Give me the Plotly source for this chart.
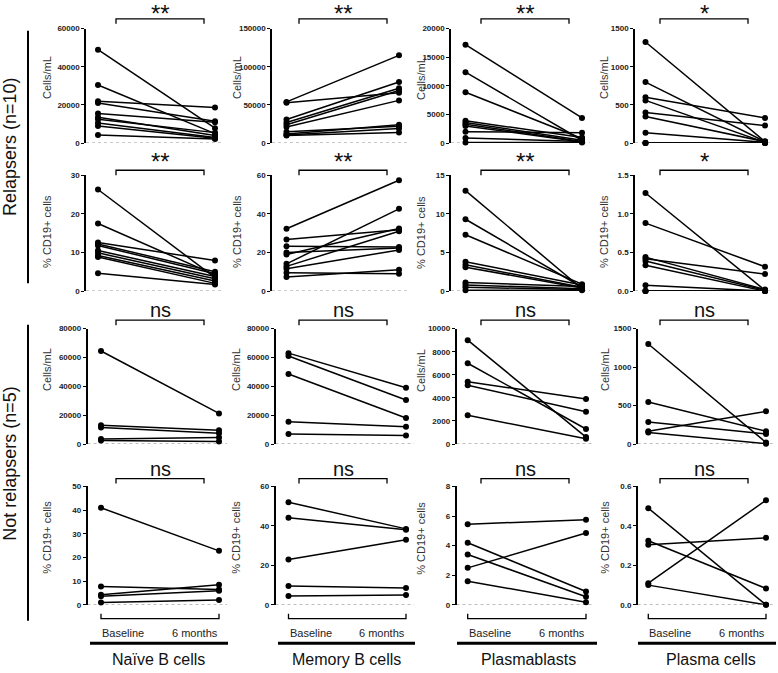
import plotly.graph_objects as go

# ---------------- data ----------------
cell_types = ["Naïve B cells", "Memory B cells", "Plasmablasts", "Plasma cells"]
timepoints = ["Baseline", "6 months"]
group_labels = ["Relapsers (n=10)", "Not relapsers (n=5)"]
row_units = ["Cells/mL", "% CD19+ cells", "Cells/mL", "% CD19+ cells"]
significance_rel = ["**", "**", "**", "*"]
significance_rel_pct = ["**", "**", "**", "*"]
significance_nonrel = ["ns", "ns", "ns", "ns"]
significance_nonrel_pct = ["ns", "ns", "ns", "ns"]

# Relapsers, cells/mL
rel_naive_cells_base = [49000, 30500, 22000, 21000, 15500, 13500, 12500, 10500, 9000, 4200]
rel_naive_cells_6m = [7800, 5000, 18700, 11500, 11000, 4000, 5500, 3000, 2600, 2100]
rel_memory_cells_base = [54000, 53000, 31000, 27000, 24000, 21000, 15000, 12000, 10500, 10000]
rel_memory_cells_6m = [115000, 66000, 80000, 72000, 69000, 56000, 22000, 24000, 19000, 14000]
rel_pb_cells_base = [17200, 12400, 8900, 3900, 3600, 3300, 3000, 2000, 900, 100]
rel_pb_cells_6m = [4400, 500, 800, 1000, 500, 300, 200, 1800, 300, 100]
rel_pc_cells_base = [1325, 800, 600, 560, 400, 350, 135, 0, 0, 0]
rel_pc_cells_6m = [20, 20, 330, 10, 230, 20, 10, 0, 0, 0]

# Relapsers, % CD19+ cells
rel_naive_pct_base = [26.3, 17.5, 12.6, 12.2, 11.8, 10.5, 9.9, 9.2, 8.8, 4.6]
rel_naive_pct_6m = [3.5, 4.2, 7.9, 5.0, 4.5, 3.8, 3.2, 2.6, 2.0, 1.7]
rel_memory_pct_base = [32.3, 26.7, 23.2, 20.0, 19.0, 14.1, 12.8, 11.6, 9.5, 7.3]
rel_memory_pct_6m = [57.4, 31.7, 22.8, 22.3, 32.4, 42.6, 31.0, 21.3, 9.0, 11.0]
rel_pb_pct_base = [13.0, 9.3, 7.3, 3.8, 3.4, 3.1, 1.1, 0.8, 0.5, 0.1]
rel_pb_pct_6m = [0.3, 0.5, 0.9, 0.8, 0.5, 0.4, 0.6, 0.3, 0.2, 0.1]
rel_pc_pct_base = [1.27, 0.88, 0.44, 0.42, 0.39, 0.335, 0.075, 0.0, 0.0, 0.0]
rel_pc_pct_6m = [0.01, 0.315, 0.02, 0.22, 0.01, 0.0, 0.0, 0.0, 0.0, 0.0]

# Not relapsers, cells/mL
non_naive_cells_base = [64500, 13000, 11500, 3500, 2500]
non_naive_cells_6m = [21200, 9500, 7500, 4500, 1800]
non_memory_cells_base = [63000, 61000, 48500, 15500, 7000]
non_memory_cells_6m = [39000, 30500, 18000, 12000, 6000]
non_pb_cells_base = [9000, 7000, 5400, 5100, 2500]
non_pb_cells_6m = [600, 1300, 3900, 2800, 450]
non_pc_cells_base = [1300, 545, 285, 165, 150]
non_pc_cells_6m = [20, 165, 130, 425, 5]

# Not relapsers, % CD19+ cells
non_naive_pct_base = [41.0, 7.8, 4.3, 3.6, 1.0]
non_naive_pct_6m = [22.8, 6.5, 8.5, 6.0, 2.0]
non_memory_pct_base = [52.0, 44.2, 23.0, 9.5, 4.5]
non_memory_pct_6m = [38.5, 38.0, 33.0, 8.5, 5.0]
non_pb_pct_base = [5.45, 4.2, 3.4, 2.5, 1.6]
non_pb_pct_6m = [5.75, 0.9, 0.55, 4.85, 0.18]
non_pc_pct_base = [0.49, 0.325, 0.305, 0.11, 0.10]
non_pc_pct_6m = [0.0, 0.083, 0.34, 0.53, 0.0]

# axis tick values per panel (row-major)
ticks_rows = [
    [[0, 20000, 40000, 60000], [0, 50000, 100000, 150000], [0, 5000, 10000, 15000, 20000], [0, 500, 1000, 1500]],
    [[0, 10, 20, 30], [0, 20, 40, 60], [0, 5, 10, 15], [0, 0.5, 1.0, 1.5]],
    [[0, 20000, 40000, 60000, 80000], [0, 20000, 40000, 60000, 80000], [0, 2000, 4000, 6000, 8000, 10000], [0, 500, 1000, 1500]],
    [[0, 10, 20, 30, 40, 50], [0, 20, 40, 60], [0, 2, 4, 6, 8], [0, 0.2, 0.4, 0.6]],
]

panels = [
    [(rel_naive_cells_base, rel_naive_cells_6m), (rel_memory_cells_base, rel_memory_cells_6m),
     (rel_pb_cells_base, rel_pb_cells_6m), (rel_pc_cells_base, rel_pc_cells_6m)],
    [(rel_naive_pct_base, rel_naive_pct_6m), (rel_memory_pct_base, rel_memory_pct_6m),
     (rel_pb_pct_base, rel_pb_pct_6m), (rel_pc_pct_base, rel_pc_pct_6m)],
    [(non_naive_cells_base, non_naive_cells_6m), (non_memory_cells_base, non_memory_cells_6m),
     (non_pb_cells_base, non_pb_cells_6m), (non_pc_cells_base, non_pc_cells_6m)],
    [(non_naive_pct_base, non_naive_pct_6m), (non_memory_pct_base, non_memory_pct_6m),
     (non_pb_pct_base, non_pb_pct_6m), (non_pc_pct_base, non_pc_pct_6m)],
]
sig_rows = [significance_rel, significance_rel_pct, significance_nonrel, significance_nonrel_pct]

# ---------------- layout geometry (pixels) ----------------
W, H = 778, 673
FONT = "Liberation Sans, Arial, sans-serif"


def fx(x):
    return x / W


def fy(y):
    return 1 - y / H


# (axis line x, baseline x, 6 months x)
geom_top = [(86, 98, 215), (272, 286.5, 399), (451, 465.5, 582), (635, 645.5, 765)]
geom_bot = [(87.5, 101, 219), (275.5, 288.5, 406), (456.5, 467.7, 586), (637.7, 648.3, 766)]
row_y = [(25, 141), (173.5, 291), (329, 446), (489, 609)]
bracket_x = [(116, 204), (299, 387), (481, 569), (660, 748)]
bracket_y = [15, 168.5, 320.5, 481]
sig_y = [9.5, 159.5, 310, 471]
title_x_top = [47, 237, 421, 604]
title_x_bot = [47, 236, 421, 605]
title_y = [75, 231, 371, 541]
cat_title_x = [158, 346, 528, 711]
thick_x = [(90, 228), (278, 415), (457, 597), (638, 776)]

fig = go.Figure()
shapes = []
annotations = []
layout_axes = {}

for r in range(4):
    geom = geom_top if r < 2 else geom_bot
    y_top, y_zero = row_y[r]
    for c in range(4):
        idx = r * 4 + c + 1
        xa = "x" if idx == 1 else f"x{idx}"
        ya = "y" if idx == 1 else f"y{idx}"
        xkey = "xaxis" if idx == 1 else f"xaxis{idx}"
        ykey = "yaxis" if idx == 1 else f"yaxis{idx}"
        ax, bx, mx = geom[c]
        span = mx - bx
        lo = -(bx - ax) / span
        hi = 1 + 8 / span
        tv = ticks_rows[r][c]
        is_pct_small = isinstance(tv[-1], float) or (tv[-1] < 2)
        layout_axes[xkey] = dict(
            domain=[fx(ax), fx(mx + 8)], range=[lo, hi], type="category",
            categoryorder="array", categoryarray=timepoints,
            visible=False, anchor=ya, fixedrange=True,
        )
        layout_axes[ykey] = dict(
            domain=[fy(y_zero), fy(y_top)], range=[0, tv[-1]], anchor=xa,
            tickvals=tv, tickformat=".1f" if is_pct_small else "d",
            showline=True, linecolor="black", linewidth=1.5,
            ticks="outside", ticklen=3, tickwidth=1.2, tickcolor="black",
            showgrid=False, zeroline=False, fixedrange=True,
            tickfont=dict(family=FONT, size=8, color="#222", weight="bold"),
        )
        base, six = panels[r][c]
        for b, m in zip(base, six):
            fig.add_trace(go.Scatter(
                x=timepoints, y=[b, m], xaxis=xa, yaxis=ya,
                mode="lines+markers", cliponaxis=False, showlegend=False,
                line=dict(color="black", width=1.5),
                marker=dict(color="black", size=6),
            ))
        # dotted zero line
        shapes.append(dict(type="line", xref=f"{xa} domain", yref=ya, x0=0, x1=1, y0=0, y1=0,
                           line=dict(color="#777", width=1, dash="dot"), layer="below"))
        # significance bracket
        x0b, x1b = bracket_x[c]
        yb = bracket_y[r]
        shapes.append(dict(type="path", xref="paper", yref="paper",
                           path=f"M {fx(x0b)} {fy(yb + 5)} L {fx(x0b)} {fy(yb)} L {fx(x1b)} {fy(yb)} L {fx(x1b)} {fy(yb + 5)}",
                           line=dict(color="black", width=1.3)))
        sig = sig_rows[r][c]
        annotations.append(dict(
            x=fx((x0b + x1b) / 2), y=fy(sig_y[r]), xref="paper", yref="paper",
            text=sig, showarrow=False, xanchor="center", yanchor="middle",
            font=dict(family=FONT, size=24 if "*" in sig else 20, color="#111"),
        ))
        # y axis title
        tx = (title_x_top if r < 2 else title_x_bot)[c]
        annotations.append(dict(
            x=fx(tx), y=fy(title_y[r]), xref="paper", yref="paper",
            text=row_units[r], textangle=-90, showarrow=False,
            xanchor="center", yanchor="middle",
            font=dict(family=FONT, size=11, color="#333"),
        ))
        # bottom x axis for last row
        if r == 3:
            shapes.append(dict(type="path", xref="paper", yref="paper",
                               path=f"M {fx(bx)} {fy(618)} L {fx(bx)} {fy(623)} L {fx(mx)} {fy(623)} L {fx(mx)} {fy(618)}",
                               line=dict(color="black", width=1.3)))
            annotations.append(dict(x=fx(bx - 1), y=fy(638), xref="paper", yref="paper",
                                    text=timepoints[0], showarrow=False, xanchor="left", yanchor="middle",
                                    font=dict(family=FONT, size=11, color="#222")))
            annotations.append(dict(x=fx(mx + 1), y=fy(638), xref="paper", yref="paper",
                                    text=timepoints[1], showarrow=False, xanchor="right", yanchor="middle",
                                    font=dict(family=FONT, size=11, color="#222")))
            t0, t1 = thick_x[c]
            shapes.append(dict(type="line", xref="paper", yref="paper",
                               x0=fx(t0), x1=fx(t1), y0=fy(648), y1=fy(648),
                               line=dict(color="black", width=3)))
            annotations.append(dict(x=fx(cat_title_x[c]), y=fy(664), xref="paper", yref="paper",
                                    text=cell_types[c], showarrow=False, xanchor="center", yanchor="middle",
                                    font=dict(family=FONT, size=16, color="#111")))

# group labels and side bars
annotations.append(dict(x=fx(10), y=fy(145), xref="paper", yref="paper", text=group_labels[0],
                        textangle=-90, showarrow=False, xanchor="center", yanchor="middle",
                        font=dict(family=FONT, size=18, color="#111")))
annotations.append(dict(x=fx(10), y=fy(466), xref="paper", yref="paper", text=group_labels[1],
                        textangle=-90, showarrow=False, xanchor="center", yanchor="middle",
                        font=dict(family=FONT, size=18, color="#111")))
shapes.append(dict(type="line", xref="paper", yref="paper", x0=fx(28), x1=fx(28), y0=fy(27), y1=fy(283),
                   line=dict(color="black", width=2)))
shapes.append(dict(type="line", xref="paper", yref="paper", x0=fx(28), x1=fx(28), y0=fy(325), y1=fy(625),
                   line=dict(color="black", width=2)))

fig.update_layout(
    width=W, height=H, autosize=False,
    margin=dict(l=0, r=0, t=0, b=0),
    paper_bgcolor="white", plot_bgcolor="white",
    showlegend=False, shapes=shapes, annotations=annotations,
    **layout_axes,
)

fig.write_html(
    "out.html",
    config={"displayModeBar": False},
    post_script="document.body.style.margin='0';document.body.style.overflow='hidden';",
)
